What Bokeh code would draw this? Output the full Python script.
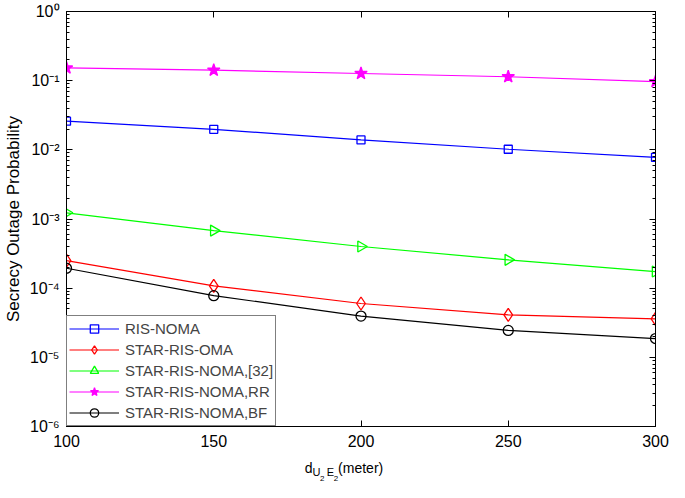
import numpy as np
from bokeh.plotting import figure
from bokeh.layouts import column
from bokeh.models import (FixedTicker, LinearAxis, LogAxis, Range1d,
                          CustomJSTickFormatter)
from bokeh.core.properties import value
from bokeh.embed import file_html
from bokeh.resources import INLINE

# distance d_{U2 E2} in meters
distance = [100, 150, 200, 250, 300]

# secrecy outage probability
ris_noma = [0.026, 0.0198, 0.0139, 0.0102, 0.0078]
star_ris_oma = [2.5e-4, 1.08e-4, 6.0e-5, 4.1e-5, 3.6e-5]
star_ris_noma_32 = [1.23e-3, 6.8e-4, 4.0e-4, 2.57e-4, 1.74e-4]
star_ris_noma_rr = [0.153, 0.142, 0.127, 0.114, 0.097]
star_ris_noma_bf = [1.94e-4, 7.8e-5, 3.95e-5, 2.45e-5, 1.87e-5]

x_ticks = [100, 150, 200, 250, 300]
y_exponents = [-6, -5, -4, -3, -2, -1, 0]

FONT = "Liberation Sans"
W = 669
H_MAIN, H_LABEL = 454, 28
B_LEFT, B_RIGHT, B_TOP, B_BOTTOM = 64, 14, 11, 28

p = figure(width=W, height=H_MAIN, x_range=(100, 300), y_range=(1e-6, 1),
           y_axis_type="log", output_backend="svg", toolbar_location=None,
           min_border_left=B_LEFT, min_border_right=B_RIGHT,
           min_border_top=B_TOP, min_border_bottom=B_BOTTOM)
p.grid.visible = False
p.outline_line_color = "black"

y_major = [10.0 ** e for e in y_exponents]
y_minor = [m * 10.0 ** e for e in y_exponents[:-1] for m in range(2, 10)]


def style_axis(ax):
    ax.axis_line_color = "black"
    ax.major_tick_line_color = "black"
    ax.minor_tick_line_color = "black"
    ax.major_tick_in = 6
    ax.major_tick_out = 0
    ax.minor_tick_in = 3
    ax.minor_tick_out = 0
    ax.major_label_text_font = FONT
    ax.major_label_text_font_size = "16px"
    ax.major_label_text_color = "black"
    ax.axis_label_text_font = FONT
    ax.axis_label_text_font_style = "normal"
    ax.axis_label_text_color = "black"


# x axis
p.xaxis.ticker = FixedTicker(ticks=x_ticks)
style_axis(p.xaxis[0])
p.xaxis.minor_tick_in = 0
p.xaxis.major_label_standoff = 8

# y axis with 10^k labels
sup_code = """
const sup = {"-": "\\u207b", "0": "\\u2070", "1": "\\u00b9", "2": "\\u00b2",
             "3": "\\u00b3", "4": "\\u2074", "5": "\\u2075", "6": "\\u2076"};
const e = String(Math.round(Math.log10(tick)));
return "10" + e.split("").map(ch => sup[ch]).join("");
"""
p.yaxis.ticker = FixedTicker(ticks=y_major, minor_ticks=y_minor)
p.yaxis.formatter = CustomJSTickFormatter(code=sup_code)
style_axis(p.yaxis[0])
p.yaxis.major_label_standoff = 7
p.yaxis.axis_label = "Secrecy Outage Probability"
p.yaxis.axis_label_text_font_size = "17px"
p.yaxis.axis_label_standoff = 4

# box with ticks on top and right (no labels there)
blank = CustomJSTickFormatter(code='return ""')
top = LinearAxis(ticker=FixedTicker(ticks=x_ticks), formatter=blank,
                 major_label_standoff=0)
style_axis(top)
top.major_label_text_font_size = "1px"
top.minor_tick_in = 0
p.add_layout(top, "above")

right = LogAxis(ticker=FixedTicker(ticks=y_major, minor_ticks=y_minor),
                formatter=blank, major_label_standoff=0)
style_axis(right)
right.major_label_text_font_size = "1px"
p.add_layout(right, "right")

# series
series = [
    ("RIS-NOMA", ris_noma, "#0000FF", "square", 8, None),
    ("STAR-RIS-OMA", star_ris_oma, "#FF0000", "diamond", 13, None),
    ("STAR-RIS-NOMA,[32]", star_ris_noma_32, "#00FF00", "triangle", 11, None),
    ("STAR-RIS-NOMA,RR", star_ris_noma_rr, "#FF00FF", "star", 13, "#FF00FF"),
    ("STAR-RIS-NOMA,BF", star_ris_noma_bf, "#000000", "circle", 10, None),
]
for name, vals, col, mk, sz, fill in series:
    p.line(distance, vals, line_color=col, line_width=1.2, legend_label=name)
    ang = -np.pi / 2 if mk == "triangle" else 0
    p.scatter(distance, vals, marker=mk, size=sz, angle=ang, line_color=col,
              line_width=1.3, fill_color=fill, legend_label=name)

lg = p.legend[0]
lg.location = "bottom_left"
lg.margin = 0
lg.padding = 2
lg.spacing = 0
lg.border_line_color = "black"
lg.border_line_width = 1
lg.background_fill_alpha = 1
lg.glyph_width = 50
lg.glyph_height = 21
lg.label_height = 21
lg.label_standoff = 6
lg.label_text_font = FONT
lg.label_text_font_size = "15px"

# x axis label d_{U_2 E_2}(meter) with real subscripts, drawn in a strip below
lab = figure(width=W, height=H_LABEL, x_range=Range1d(0, W),
             y_range=Range1d(H_LABEL, 0), output_backend="svg",
             toolbar_location=None, x_axis_location=None,
             y_axis_location=None, min_border=0,
             min_border_left=0, min_border_right=0,
             min_border_top=0, min_border_bottom=0, outline_line_color=None)
lab.grid.visible = False
c = (B_LEFT + W - B_RIGHT) / 2 - 30
label_parts = ["d", "U", "2", "E", "2", "(meter)"]
label_dx = [-59, -50, -41.5, -34, -26, -21]
label_base = [13, 17, 24, 17, 24, 13]
label_size = ["14px", "11px", "8px", "11px", "8px", "14px"]
for txt, dx, by, fs in zip(label_parts, label_dx, label_base, label_size):
    lab.text(x=[c + dx], y=[by], text=[txt], text_font=value(FONT),
             text_font_size=fs, text_baseline="alphabetic",
             text_align="left", text_color="black")

layout = column(p, lab, spacing=0)
open("out.html", "w").write(file_html(layout, INLINE))
